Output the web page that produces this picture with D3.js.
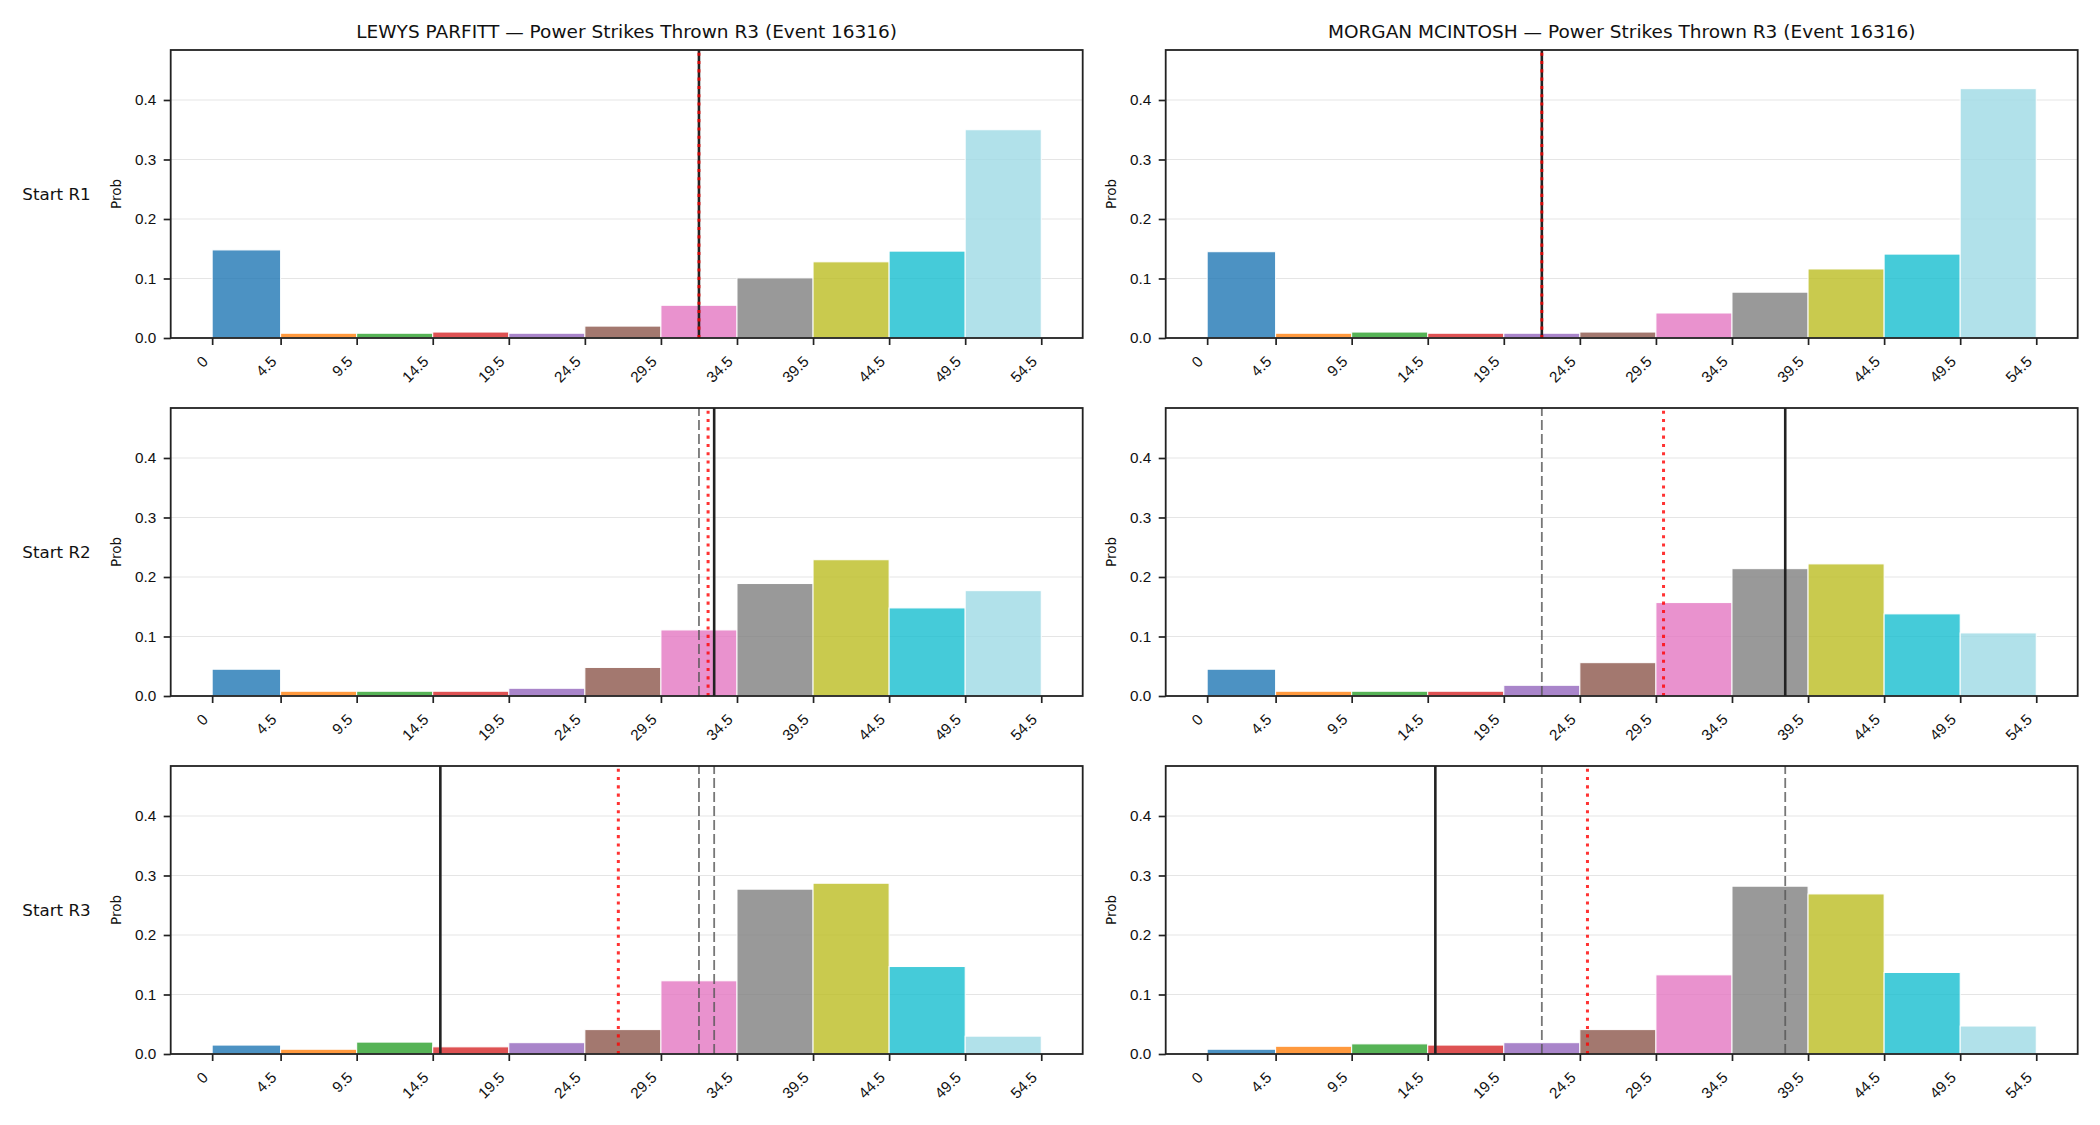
<!DOCTYPE html>
<html>
<head>
<meta charset="utf-8">
<script src="https://cdn.jsdelivr.net/npm/d3@7"></script>
<style>
body { margin: 0; background: #fff; }
svg { display: block; font-family: "DejaVu Sans", sans-serif; }
</style>
</head>
<body>
<svg id="chart"></svg>
<script>
// bins and labels
const binEdges = [0, 4.5, 9.5, 14.5, 19.5, 24.5, 29.5, 34.5, 39.5, 44.5, 49.5, 54.5];
const tickLabels = ["0", "4.5", "9.5", "14.5", "19.5", "24.5", "29.5", "34.5", "39.5", "44.5", "49.5", "54.5"];
const yTicks = [0, 0.1, 0.2, 0.3, 0.4];
const barColors = ["#1f77b4", "#ff7f0e", "#2ca02c", "#d62728", "#9467bd", "#8c564b",
    "#e377c2", "#7f7f7f", "#bcbd22", "#17becf", "#9edae5"];
const rowLabels = ["Start R1", "Start R2", "Start R3"];
const titles = [
    "LEWYS PARFITT \u2014 Power Strikes Thrown R3 (Event 16316)",
    "MORGAN MCINTOSH \u2014 Power Strikes Thrown R3 (Event 16316)"
];

// probabilities per bin, one array per start round
const parfittR1 = [0.148, 0.008, 0.008, 0.010, 0.008, 0.020, 0.055, 0.101, 0.128, 0.146, 0.350];
const parfittR2 = [0.045, 0.008, 0.008, 0.008, 0.013, 0.048, 0.111, 0.189, 0.229, 0.148, 0.177];
const parfittR3 = [0.015, 0.008, 0.020, 0.012, 0.019, 0.041, 0.123, 0.277, 0.287, 0.147, 0.030];
const mcintoshR1 = [0.145, 0.008, 0.010, 0.008, 0.008, 0.010, 0.042, 0.077, 0.116, 0.141, 0.419];
const mcintoshR2 = [0.045, 0.008, 0.008, 0.008, 0.018, 0.056, 0.157, 0.214, 0.222, 0.138, 0.106];
const mcintoshR3 = [0.008, 0.013, 0.017, 0.015, 0.019, 0.041, 0.133, 0.282, 0.269, 0.137, 0.047];

// reference lines per start round
const parfittActual = [32, 33, 15];
const parfittExpected = [32, 32.6, 26.7];
const parfittPrevious = [[], [32], [32, 33]];
const mcintoshActual = [22, 38, 15];
const mcintoshExpected = [22, 30, 25];
const mcintoshPrevious = [[], [22], [22, 38]];

const width = 2100;
const height = 1125;
const colX = [170.7, 1165.7];
const rowY = [50, 408, 766];
const panelW = 912;
const panelH = 288;

let svg = d3.select("#chart")
    .attr("width", width)
    .attr("height", height);

svg.append("rect").attr("width", width).attr("height", height).attr("fill", "#fff");

let scaleX = d3.scaleLinear().domain([-2.725, 57.225]).range([0, panelW]);
let scaleY = d3.scaleLinear().domain([0, 0.484]).range([panelH, 0]);

function drawPanel(col, row, probs, actual, expected, previous) {
    let g = svg.append("g").attr("transform", `translate(${colX[col]}, ${rowY[row]})`);

    // grid
    g.selectAll(".grid")
        .data(yTicks)
        .enter()
        .append("line")
        .attr("x1", 0)
        .attr("x2", panelW)
        .attr("y1", d => scaleY(d))
        .attr("y2", d => scaleY(d))
        .attr("stroke", "#e5e5e5")
        .attr("stroke-width", 1.2);

    let bars = probs.map((p, i) => ({x0: binEdges[i], x1: binEdges[i + 1], p: p, color: barColors[i]}));
    g.selectAll(".bar")
        .data(bars)
        .enter()
        .append("rect")
        .attr("x", d => scaleX(d.x0))
        .attr("y", d => scaleY(d.p))
        .attr("width", d => scaleX(d.x1) - scaleX(d.x0))
        .attr("height", d => scaleY(0) - scaleY(d.p))
        .attr("fill", d => d.color)
        .attr("fill-opacity", 0.8)
        .attr("stroke", "#fff")
        .attr("stroke-width", 1);

    // previous rounds (dashed), actual (solid), expected (dotted red)
    previous.forEach(v => {
        g.append("path")
            .attr("d", `M${scaleX(v)},${panelH}V0`)
            .attr("stroke", "#555")
            .attr("stroke-opacity", 0.8)
            .attr("stroke-width", 1.8)
            .attr("stroke-dasharray", "10,4");
    });
    g.append("path")
        .attr("d", `M${scaleX(actual)},${panelH}V0`)
        .attr("stroke", "#222")
        .attr("stroke-width", 2.6);
    g.append("path")
        .attr("d", `M${scaleX(expected)},${panelH}V0`)
        .attr("stroke", "#ff0000")
        .attr("stroke-opacity", 0.8)
        .attr("stroke-width", 3)
        .attr("stroke-dasharray", "3.1,5.2");

    // axes
    let axisX = d3.axisBottom(scaleX)
        .tickValues(binEdges)
        .tickFormat((d, i) => tickLabels[i])
        .tickSize(7)
        .tickSizeOuter(0);
    let gx = g.append("g")
        .attr("transform", `translate(0, ${panelH})`)
        .call(axisX);
    gx.select(".domain").remove();
    gx.selectAll("line").attr("stroke", "#222").attr("stroke-width", 1.7);
    gx.selectAll("text")
        .attr("x", 0)
        .attr("y", 0)
        .attr("dy", null)
        .attr("transform", "translate(-3.7, 24.5) rotate(-45)")
        .style("text-anchor", "end")
        .style("font-size", "15.3px")
        .attr("fill", "#111");

    let axisY = d3.axisLeft(scaleY)
        .tickValues(yTicks)
        .tickFormat(d3.format(".1f"))
        .tickSize(7)
        .tickPadding(7.5)
        .tickSizeOuter(0);
    let gy = g.append("g").call(axisY);
    gy.select(".domain").remove();
    gy.selectAll("line").attr("stroke", "#222").attr("stroke-width", 1.7);
    gy.selectAll("text")
        .style("font-size", "15.3px")
        .attr("fill", "#111");

    g.append("rect")
        .attr("width", panelW)
        .attr("height", panelH)
        .attr("fill", "none")
        .attr("stroke", "#222")
        .attr("stroke-width", 1.8);

    g.append("text")
        .attr("transform", `translate(-54.5, ${panelH / 2}) rotate(-90)`)
        .attr("text-anchor", "middle")
        .attr("dy", "0.35em")
        .style("font-size", "13.5px")
        .attr("fill", "#111")
        .text("Prob");

    if (row == 0) {
        g.append("text")
            .attr("x", panelW / 2)
            .attr("y", -12.5)
            .attr("text-anchor", "middle")
            .style("font-size", "18.5px")
            .attr("fill", "#111")
            .text(titles[col]);
    }
    if (col == 0) {
        g.append("text")
            .attr("x", 56.5 - colX[0])
            .attr("y", panelH / 2)
            .attr("dy", "0.35em")
            .attr("text-anchor", "middle")
            .style("font-size", "16.7px")
            .attr("fill", "#111")
            .text(rowLabels[row]);
    }
}

let parfitt = [parfittR1, parfittR2, parfittR3];
let mcintosh = [mcintoshR1, mcintoshR2, mcintoshR3];
for (let r = 0; r < 3; r++) {
    drawPanel(0, r, parfitt[r], parfittActual[r], parfittExpected[r], parfittPrevious[r]);
    drawPanel(1, r, mcintosh[r], mcintoshActual[r], mcintoshExpected[r], mcintoshPrevious[r]);
}
</script>
</body>
</html>
